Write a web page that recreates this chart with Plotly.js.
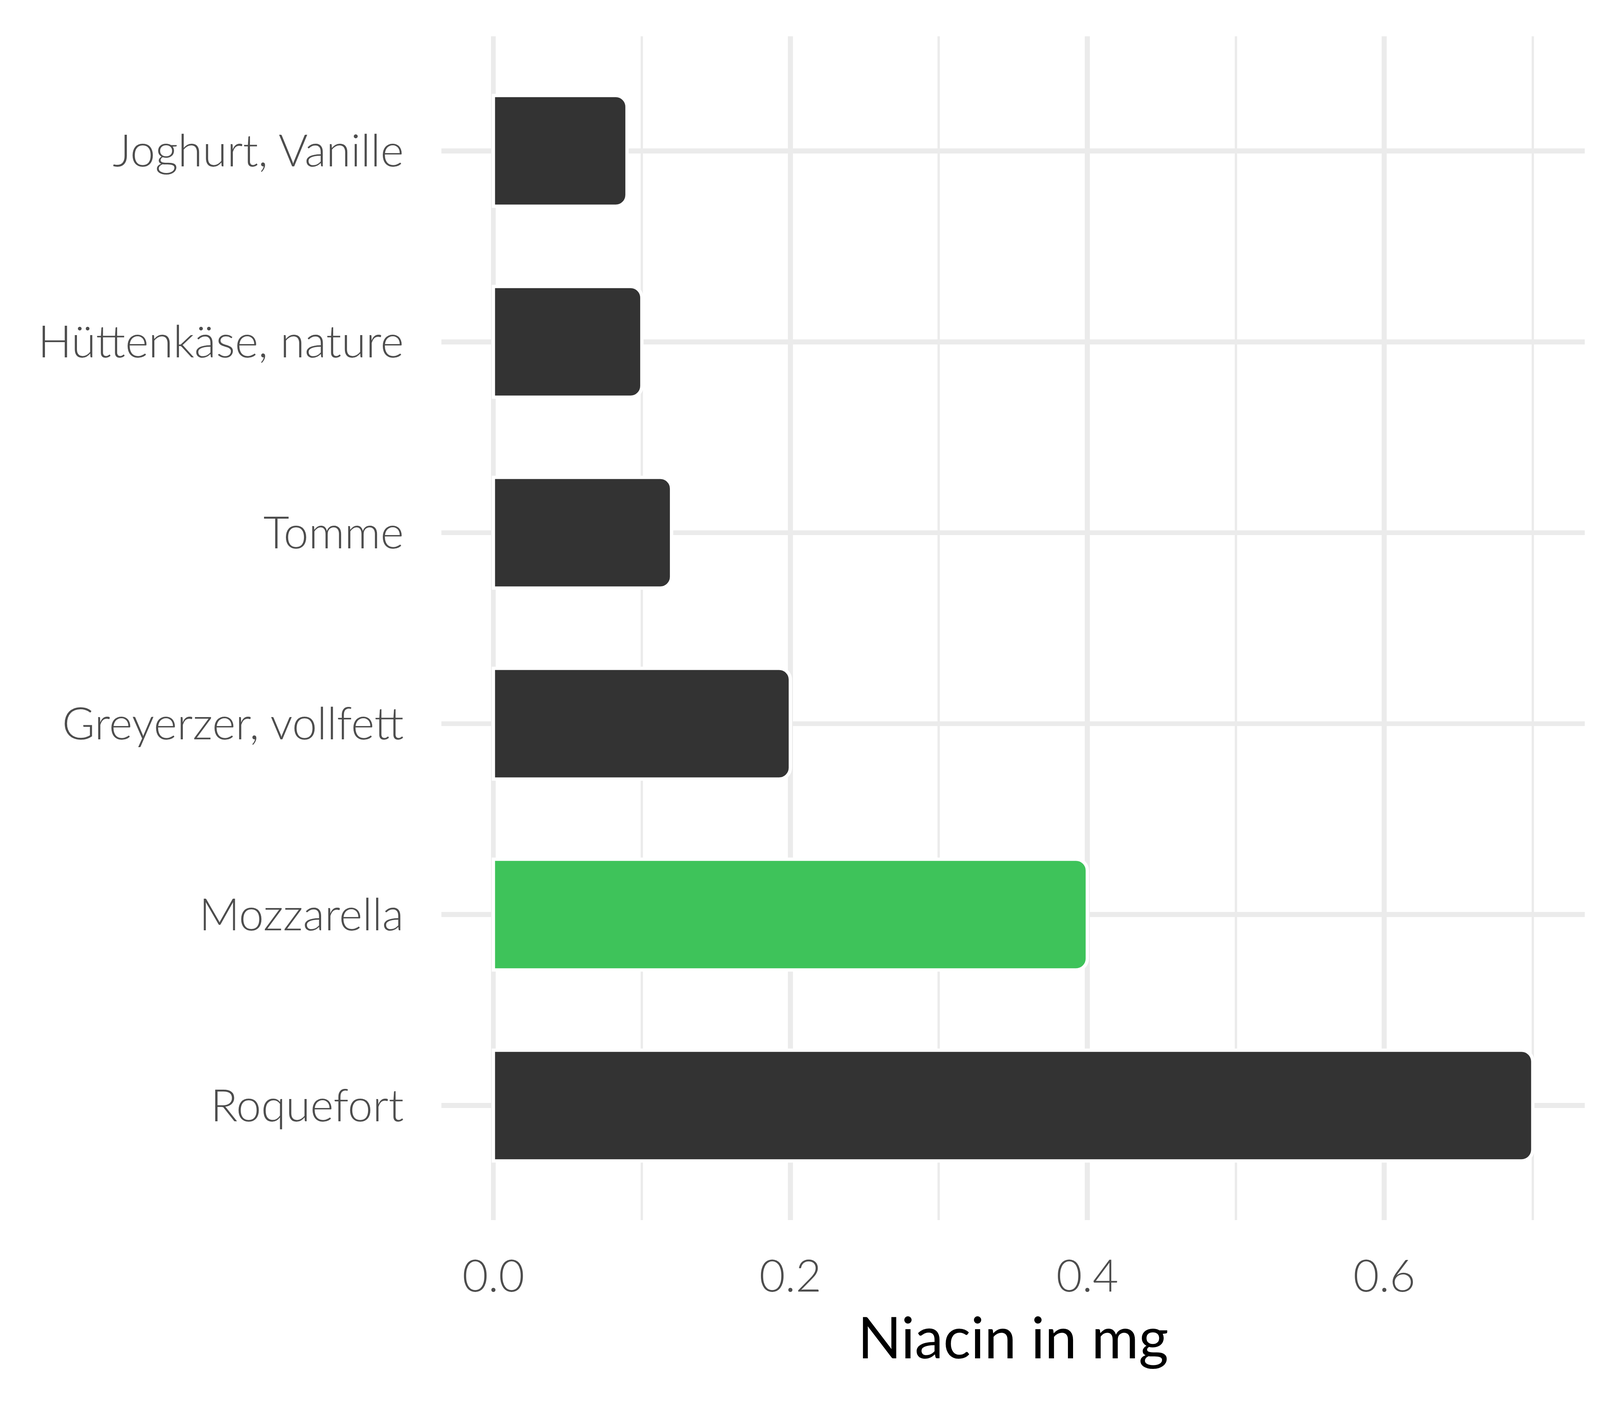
<!DOCTYPE html>
<html>
<head>
<meta charset="utf-8">
<script src="https://cdn.plot.ly/plotly-3.0.1.min.js"></script>
<style>html,body{margin:0;padding:0;background:#fff;overflow:hidden;}</style>
</head>
<body>
<div id="chart"></div>
<script>
// Data (bottom to top)
const categories = ["Roquefort", "Mozzarella", "Greyerzer, vollfett", "Tomme", "Hüttenkäse, nature", "Joghurt, Vanille"];
const values = [0.7, 0.4, 0.2, 0.12, 0.1, 0.09];
const highlight = "Mozzarella";
const xTickVals = [0, 0.2, 0.4, 0.6];
const xTickText = ["0.0", "0.2", "0.4", "0.6"];
const xTitle = "Niacin in mg";

const W = window.innerWidth || 4800;
const H = window.innerHeight || 3600;
const sx = W / 4800, sy = H / 3600;
const s = Math.min(sx, sy * 1.05);
document.getElementById("chart").style.width = W + "px";
document.getElementById("chart").style.height = H + "px";

const colors = categories.map(c => c === highlight ? "#3EC35A" : "#333333");
const FONT = "Lato, 'Open Sans', 'Noto Sans', sans-serif";
const NONE = "rgba(0,0,0,0)";

const trace = {
  type: "bar",
  orientation: "h",
  x: values,
  y: categories,
  width: 0.58,
  marker: {
    color: colors,
    cornerradius: 34 * s,
    line: {color: "#FFFFFF", width: 10 * s}
  },
  hoverinfo: "skip"
};

const layout = {
  width: W,
  height: H,
  paper_bgcolor: "#FFFFFF",
  plot_bgcolor: "#FFFFFF",
  showlegend: false,
  margin: {l: 1324 * sx, r: 46 * sx, t: 93 * sy, b: 476 * sy, pad: 0},
  font: {family: FONT, color: "#4D4D4D", weight: 300},
  xaxis: {
    range: [-0.035, 0.735],
    tickvals: xTickVals,
    ticktext: xTickText,
    showgrid: true,
    gridcolor: "#EBEBEB",
    gridwidth: 15 * s,
    zeroline: false,
    showline: false,
    ticks: "outside",
    ticklen: 45 * sy,
    tickcolor: NONE,
    tickfont: {family: FONT, size: 134 * s, color: "#4D4D4D", weight: 300},
    minor: {dtick: 0.1, tick0: 0, showgrid: true, gridcolor: "#EBEBEB", gridwidth: 7 * s, ticks: ""},
    title: {text: xTitle, standoff: 45 * sy, font: {family: FONT, size: 172 * s, color: "#000000", weight: 400}}
  },
  yaxis: {
    type: "category",
    categoryorder: "array",
    categoryarray: categories,
    range: [-0.6, 5.6],
    showgrid: true,
    gridcolor: "#EBEBEB",
    gridwidth: 15 * s,
    zeroline: false,
    showline: false,
    ticks: "outside",
    ticklen: 85 * sx,
    tickcolor: NONE,
    tickfont: {family: FONT, size: 134 * s, color: "#4D4D4D", weight: 300}
  }
};

Plotly.newPlot("chart", [trace], layout, {staticPlot: true, displayModeBar: false});
</script>
</body>
</html>
